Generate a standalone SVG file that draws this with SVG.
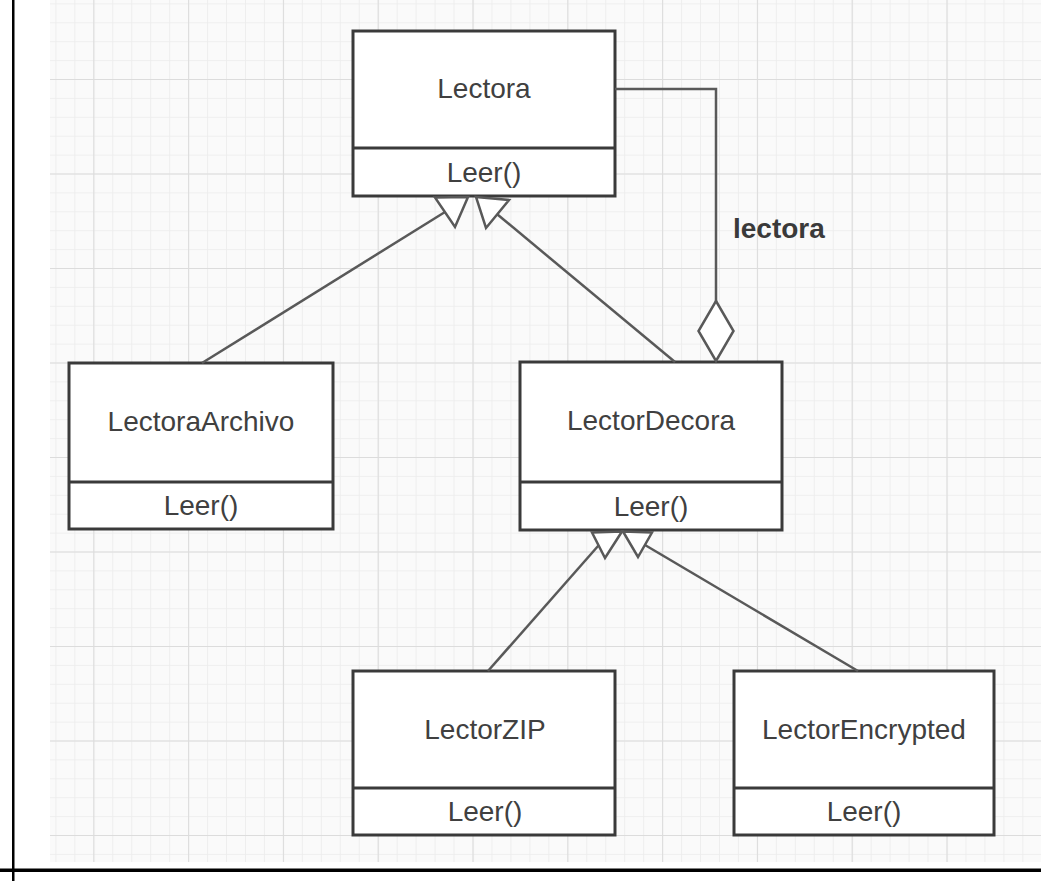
<svg xmlns="http://www.w3.org/2000/svg" width="1041" height="881" viewBox="0 0 1041 881">
<style>
.box{fill:#fff;stroke:#3a3a3a;stroke-width:3}
.div{stroke:#3a3a3a;stroke-width:3}
.t{font-family:"Liberation Sans",Arial,sans-serif;font-size:28px;fill:#404040;text-anchor:middle}
.lbl{font-family:"Liberation Sans",Arial,sans-serif;font-size:28px;font-weight:bold;fill:#3a3a3a}
.edge{fill:none;stroke:#595959;stroke-width:2.5}
.head{fill:#fff;stroke:#595959;stroke-width:2.5;stroke-linejoin:miter}
</style>
<defs>
<pattern id="minor" patternUnits="userSpaceOnUse" x="93.3" y="79" width="18.96" height="18.9">
<path d="M0,0 V18.9 M0,0 H18.96" fill="none" stroke="#ececec" stroke-width="1.6"/>
</pattern>
<pattern id="major" patternUnits="userSpaceOnUse" x="93.3" y="79" width="94.8" height="94.5">
<path d="M0,0 V94.5 M0,0 H94.8" fill="none" stroke="#dcdcdc" stroke-width="2.2"/>
</pattern>
<marker id="agg" markerUnits="userSpaceOnUse" markerWidth="64" markerHeight="40" refX="61" refY="20" orient="auto" overflow="visible">
<path d="M1,20 L31,2.5 L61,20 L31,37.5 Z" fill="#fff" stroke="#595959" stroke-width="2.5"/>
</marker>
</defs>
<rect x="0" y="0" width="1041" height="881" fill="#fff"/>
<rect x="50" y="0" width="991" height="862" fill="#fafafa"/>
<rect x="50" y="0" width="991" height="862" fill="url(#minor)"/>
<rect x="50" y="0" width="991" height="862" fill="url(#major)"/>
<rect x="12" y="0" width="2.5" height="881" fill="#000"/>
<rect x="0" y="868.5" width="1041" height="3.5" fill="#000"/>

<g id="Lectora">
<rect class="box" x="353" y="31" width="262" height="165"/>
<line class="div" x1="353" y1="148" x2="615" y2="148"/>
<text class="t" x="484" y="98">Lectora</text>
<text class="t" x="484" y="182">Leer()</text>
</g>
<g id="LectoraArchivo">
<rect class="box" x="69" y="363" width="264" height="166"/>
<line class="div" x1="69" y1="482" x2="333" y2="482"/>
<text class="t" x="201" y="431">LectoraArchivo</text>
<text class="t" x="201" y="515">Leer()</text>
</g>
<g id="LectorDecora">
<rect class="box" x="520" y="362" width="262" height="168"/>
<line class="div" x1="520" y1="482" x2="782" y2="482"/>
<text class="t" x="651" y="430">LectorDecora</text>
<text class="t" x="651" y="516">Leer()</text>
</g>
<g id="LectorZIP">
<rect class="box" x="353" y="671" width="262" height="164"/>
<line class="div" x1="353" y1="788" x2="615" y2="788"/>
<text class="t" x="485" y="739">LectorZIP</text>
<text class="t" x="485" y="821">Leer()</text>
</g>
<g id="LectorEncrypted">
<rect class="box" x="734" y="671" width="260" height="164"/>
<line class="div" x1="734" y1="788" x2="994" y2="788"/>
<text class="t" x="864" y="739">LectorEncrypted</text>
<text class="t" x="864" y="821">Leer()</text>
</g>

<g id="connectors">
<line class="edge" x1="202" y1="363" x2="445" y2="212"/>
<polygon class="head" points="468,197 435,197.5 455,227"/>
<line class="edge" x1="675" y1="362" x2="497.5" y2="214.5"/>
<polygon class="head" points="476,197 509,200 486,228"/>
<line class="edge" x1="488" y1="671" x2="598.5" y2="545.5"/>
<polygon class="head" points="622,531.5 592,532.5 605,558"/>
<line class="edge" x1="858" y1="671" x2="645" y2="545"/>
<polygon class="head" points="623,531.5 652,532.5 638,557"/>
<path class="edge" d="M615,89 H716 V361" marker-end="url(#agg)"/>
<text class="lbl" x="733" y="238">lectora</text>
</g>
</svg>
